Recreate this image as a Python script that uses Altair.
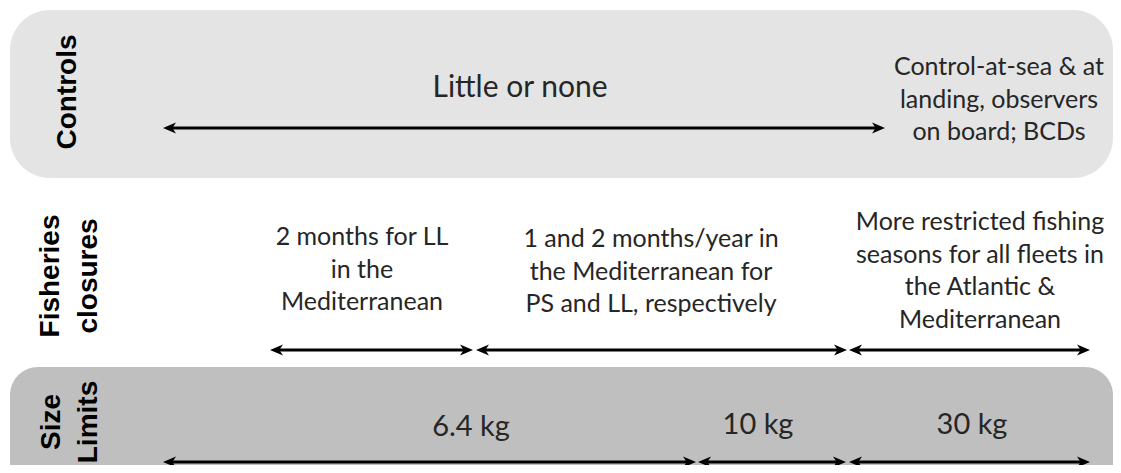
import altair as alt
import pandas as pd

# ---- diagram content ----
row_names = ["Controls", "Fisheries closures", "Size Limits"]
row_label_lines = [["Controls"], ["Fisheries", "closures"], ["Size", "Limits"]]

# arrow spans (start, end) per row, in picture coordinates
controls_starts = [163]
controls_ends = [885]
closure_starts = [270, 476, 849]
closure_ends = [473, 847, 1090]
size_starts = [163, 698, 849]
size_ends = [696, 846, 1090]

# texts
controls_texts = ["Little or none", "Control-at-sea & at\nlanding, observers\non board; BCDs"]
closure_texts = ["2 months for LL\nin the\nMediterranean",
                 "1 and 2 months/year in\nthe Mediterranean for\nPS and LL, respectively",
                 "More restricted fishing\nseasons for all fleets in\nthe Atlantic &\nMediterranean"]
size_texts = ["6.4 kg", "10 kg", "30 kg"]

# ---- layout helpers (picture pixel frame) ----
X0, X1 = 8, 1113
Y0, Y1 = 8, 465
xs = alt.Scale(domain=[X0, X1], nice=False, zero=False)
ys = alt.Scale(domain=[Y0, Y1], nice=False, zero=False, reverse=True)

boxes = pd.DataFrame({
    "row": ["Controls", "Size Limits"],
    "x": [10, 10], "x2": [1113, 1113],
    "y": [10, 367], "y2": [178, 520],
    "color": ["#e4e4e4", "#bfbfbf"],
})

def box_layer(i, radius):
    return alt.Chart(boxes.iloc[[i]]).mark_rect(cornerRadius=radius, clip=True).encode(
        x=alt.X("x:Q", scale=xs, axis=None), x2="x2:Q",
        y=alt.Y("y:Q", scale=ys, axis=None), y2="y2:Q",
        color=alt.Color("color:N", scale=None),
    )

arrow_rows = []
for s, e in zip(controls_starts, controls_ends):
    arrow_rows.append({"row": "Controls", "s": s, "e": e, "y": 128})
for s, e in zip(closure_starts, closure_ends):
    arrow_rows.append({"row": "Fisheries closures", "s": s, "e": e, "y": 350})
for s, e in zip(size_starts, size_ends):
    arrow_rows.append({"row": "Size Limits", "s": s, "e": e, "y": 462})
arrows = pd.DataFrame(arrow_rows)
arrows["s_in"] = arrows["s"] + 6
arrows["e_in"] = arrows["e"] - 6

shafts = alt.Chart(arrows).mark_rule(strokeWidth=3, color="black").encode(
    x=alt.X("s_in:Q", scale=xs, axis=None), x2="e_in:Q",
    y=alt.Y("y:Q", scale=ys, axis=None),
)
RIGHT = "M0,0 L-1,-0.42 L-0.72,0 L-1,0.42 Z"
LEFT = "M0,0 L1,-0.42 L0.72,0 L1,0.42 Z"
head_r = alt.Chart(arrows).mark_point(shape=RIGHT, filled=True, size=676, color="black",
                                      opacity=1, strokeWidth=0).encode(
    x=alt.X("e:Q", scale=xs, axis=None), y=alt.Y("y:Q", scale=ys, axis=None))
head_l = alt.Chart(arrows).mark_point(shape=LEFT, filled=True, size=676, color="black",
                                      opacity=1, strokeWidth=0).encode(
    x=alt.X("s:Q", scale=xs, axis=None), y=alt.Y("y:Q", scale=ys, axis=None))

# body texts (y = centre of first line)
body = pd.DataFrame({
    "text": controls_texts + closure_texts + size_texts,
    "x": [520, 999, 362, 651, 980, 471, 758, 972],
    "y": [88, 67, 237, 239, 222, 427, 425, 425],
    "size": [30, 25, 25, 25, 25, 29, 29, 29],
})

def text_layer(df, size):
    return alt.Chart(df).mark_text(font="Lato", fontSize=size, color="#262626",
                                   lineBreak="\n", lineHeight=32.5, align="center",
                                   baseline="middle").encode(
        x=alt.X("x:Q", scale=xs, axis=None), y=alt.Y("y:Q", scale=ys, axis=None),
        text="text:N")

texts = [text_layer(body[body["size"] == s], s) for s in sorted(body["size"].unique())]

# row labels (rotated)
lab_rows = []
lab_pos = [([68], 92), ([51, 89], 276), ([52, 89], 422)]
for lines, (xpos, yc) in zip(row_label_lines, lab_pos):
    for ln, xp in zip(lines, xpos):
        lab_rows.append({"text": ln, "x": xp, "y": yc})
labels = alt.Chart(pd.DataFrame(lab_rows)).mark_text(
    font="Liberation Sans", fontWeight="bold", fontSize=28, angle=270, color="black",
    align="center", baseline="middle").encode(
    x=alt.X("x:Q", scale=xs, axis=None), y=alt.Y("y:Q", scale=ys, axis=None), text="text:N")

chart = alt.layer(
    box_layer(0, 40), box_layer(1, 28), shafts, head_r, head_l, *texts, labels
).properties(
    width=X1 - X0, height=Y1 - Y0, padding=0, autosize=alt.AutoSizeParams(type="none"),
).configure_view(stroke=None)

chart.save("out.html", embed_options={"renderer": "svg", "actions": False})
